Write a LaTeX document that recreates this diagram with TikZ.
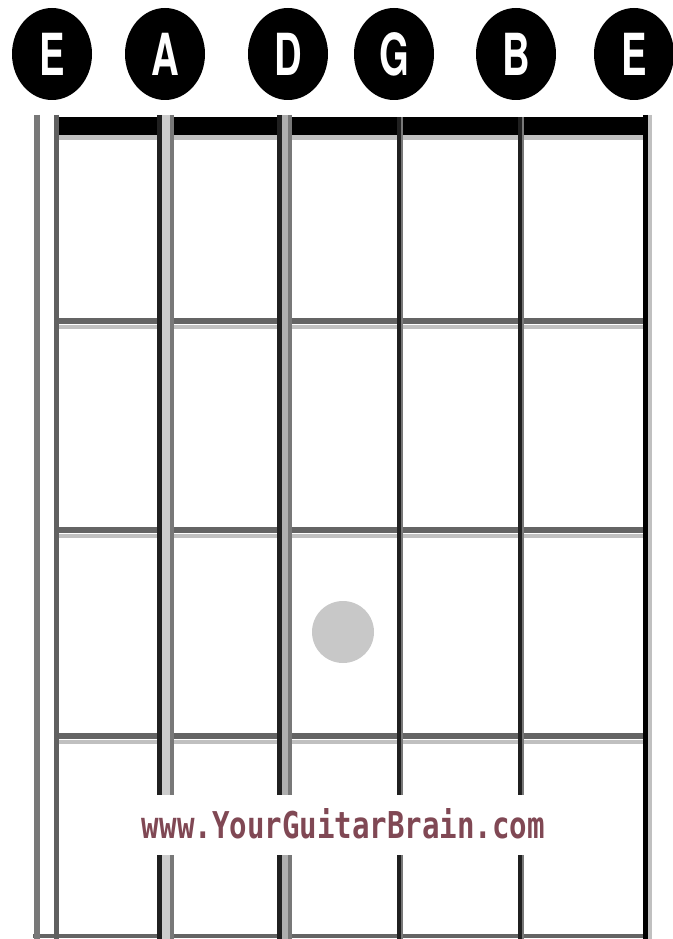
\documentclass[tikz,border=0pt]{standalone}
\usepackage{fontspec}
\usepackage{graphicx}
\usetikzlibrary{shapes.geometric}
\newfontfamily\labelfont{TeX Gyre Heros}
\newfontfamily\markfont{DejaVu Sans Mono}
\definecolor{markred}{RGB}{128,72,84}
\definecolor{fretdark}{RGB}{100,100,100}
\definecolor{fretlight}{RGB}{192,192,192}
\definecolor{strgray}{RGB}{120,120,120}
\definecolor{strdark}{RGB}{32,32,32}
\definecolor{strfill}{RGB}{205,205,205}
\definecolor{dotgray}{RGB}{200,200,200}
\tikzset{
  stringlabel/.style={ellipse, fill=black, minimum width=80pt, minimum height=92pt,
    inner sep=0pt, text=white, font=\labelfont\bfseries\fontsize{58}{58}\selectfont},
  fretline/.style={draw=fretdark, line width=6pt},
  fretshade/.style={draw=fretlight, line width=4pt},
  darkstring/.style={draw=strdark, line width=4.5pt},
  graystring/.style={draw=strgray, line width=4pt},
}
\begin{document}
\begin{tikzpicture}[x=1pt,y=-1pt]
\useasboundingbox (0,0) rectangle (672,939);
\fill[white] (0,0) rectangle (672,939);

% string name badges
\node[stringlabel] (lowE) at (52,54) {\scalebox{0.66}[1]{E}};
\node[stringlabel] (A) at (165,54) {\scalebox{0.66}[1]{A}};
\node[stringlabel] (D) at (288,54) {\scalebox{0.66}[1]{D}};
\node[stringlabel] (G) at (394,54) {\scalebox{0.66}[1]{G}};
\node[stringlabel] (B) at (516,54) {\scalebox{0.66}[1]{B}};
\node[stringlabel] (highE) at (634,54) {\scalebox{0.66}[1]{E}};

% frets
\foreach \fy in {321,530,736} {
  \draw[fretshade] (58,\fy+6) -- (645,\fy+6);
  \draw[fretline] (58,\fy) -- (645,\fy);
}
% bottom edge
\draw[draw=fretdark, line width=4pt] (33,935.5) -- (651,935.5);

% nut
\fill[fretlight] (58,134) rectangle (648,140);
\fill[black] (58,117) rectangle (648,135);

% low E string (outlined, white inside)
\draw[draw=strgray, line width=6pt] (36.5,115) -- (36.5,939);
\draw[draw=strgray!80!black, line width=5pt] (56,115) -- (56,939);

% A string
\fill[strfill] (161.5,115) rectangle (170,939);
\draw[darkstring] (159.5,115) -- (159.5,939);
\draw[graystring] (172,115) -- (172,939);

% D string
\fill[strfill!85!black] (281.5,115) rectangle (288.5,939);
\draw[darkstring] (279.5,115) -- (279.5,939);
\draw[graystring] (290,115) -- (290,939);

% G and B strings
\draw[draw=strgray, line width=2pt] (401.5,117) -- (401.5,939);
\draw[darkstring] (399,117) -- (399,939);
\draw[draw=strgray, line width=2pt] (522.5,117) -- (522.5,939);
\draw[darkstring] (520,117) -- (520,939);

% high E string
\draw[draw=fretlight, line width=4pt] (650,115) -- (650,939);
\draw[draw=black, line width=5pt] (645.5,115) -- (645.5,939);

% marker dot
\node[circle, fill=dotgray, minimum size=62pt, inner sep=0pt] (dot) at (343,632) {};

% watermark
\fill[white] (125,795) rectangle (565,855);
\node[anchor=base, text=markred, inner sep=0pt] (wm) at (343.5,838)
  {\resizebox{403pt}{30pt}{\markfont\bfseries www.YourGuitarBrain.com}};
\end{tikzpicture}
\end{document}
